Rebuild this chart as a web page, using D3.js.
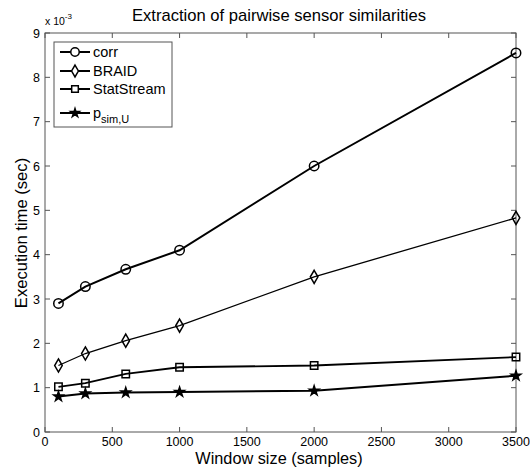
<!DOCTYPE html>
<html>
<head>
<meta charset="utf-8">
<script src="https://cdn.jsdelivr.net/npm/d3@7"></script>
<style>
  body { margin: 0; background: #fff; }
  svg { font-family: Arial, "Liberation Sans", sans-serif; }
</style>
</head>
<body>
<svg id="chart" width="530" height="468"></svg>
<script>
// data (execution time in units of 1e-3 s)
var windowSizes = [100, 300, 600, 1000, 2000, 3500];
var corr = [2.9, 3.28, 3.67, 4.1, 6.0, 8.55];
var braid = [1.5, 1.77, 2.06, 2.4, 3.5, 4.83];
var statStream = [1.02, 1.1, 1.31, 1.46, 1.5, 1.69];
var pSim = [0.8, 0.87, 0.89, 0.9, 0.93, 1.27];
var xTicks = [0, 500, 1000, 1500, 2000, 2500, 3000, 3500];
var yTicks = [0, 1, 2, 3, 4, 5, 6, 7, 8, 9];

var series = [
  { name: 'corr', vals: corr, sym: d3.symbolCircle, size: 70, fill: 'none', lw: 2 },
  { name: 'BRAID', vals: braid, sym: d3.symbolDiamond, size: 50, fill: 'none', lw: 1.3 },
  { name: 'StatStream', vals: statStream, sym: d3.symbolSquare, size: 55, fill: 'none', lw: 1.8 },
  { name: 'p', sub: 'sim,U', vals: pSim, sym: d3.symbolStar, size: 28, fill: '#000', lw: 2 }
];

var svg = d3.select('#chart');
var L = 45, R = 516, T = 33, B = 432;
var x = d3.scaleLinear().domain([0, 3500]).range([L, R]);
var y = d3.scaleLinear().domain([0, 9]).range([B, T]);

// box + inward ticks on all sides
var ax = svg.append('g').attr('stroke', '#555').attr('stroke-width', 1);
ax.append('rect').attr('x', L).attr('y', T).attr('width', R - L).attr('height', B - T).attr('fill', 'none');
xTicks.forEach(function (t) {
  ax.append('line').attr('x1', x(t)).attr('x2', x(t)).attr('y1', B).attr('y2', B - 5);
  ax.append('line').attr('x1', x(t)).attr('x2', x(t)).attr('y1', T).attr('y2', T + 5);
});
yTicks.forEach(function (t) {
  ax.append('line').attr('x1', L).attr('x2', L + 5).attr('y1', y(t)).attr('y2', y(t));
  ax.append('line').attr('x1', R).attr('x2', R - 5).attr('y1', y(t)).attr('y2', y(t));
});

var lab = svg.append('g').attr('font-size', 12.5).attr('fill', '#000');
xTicks.forEach(function (t) {
  lab.append('text').attr('x', x(t)).attr('y', B + 13.5).attr('text-anchor', 'middle').text(t);
});
yTicks.forEach(function (t) {
  lab.append('text').attr('x', L - 5).attr('y', y(t) + 4.5).attr('text-anchor', 'end').text(t);
});
// exponent
var ex = svg.append('text').attr('x', 45).attr('y', 25).attr('font-size', 10.5);
ex.append('tspan').text('x 10');
ex.append('tspan').attr('dy', -6).attr('font-size', 8).text('-3');

svg.append('text').attr('x', 279).attr('y', 21).attr('text-anchor', 'middle').attr('font-size', 16.6)
  .text('Extraction of pairwise sensor similarities');
svg.append('text').attr('x', 279).attr('y', 463.5).attr('text-anchor', 'middle').attr('font-size', 16.3)
  .text('Window size (samples)');
svg.append('text').attr('transform', 'translate(27,233) rotate(-90)').attr('text-anchor', 'middle').attr('font-size', 16.6)
  .text('Execution time (sec)');

// series
var line = d3.line().x(function (d, i) { return x(windowSizes[i]); }).y(function (d) { return y(d); });
series.forEach(function (s) {
  svg.append('path').datum(s.vals).attr('d', line).attr('fill', 'none').attr('stroke', '#000').attr('stroke-width', s.lw);
  svg.selectAll(null).data(s.vals).enter().append('path')
    .attr('transform', function (d, i) { return 'translate(' + x(windowSizes[i]) + ',' + y(d) + ')'; })
    .attr('d', d3.symbol().type(s.sym).size(s.size))
    .attr('fill', s.fill === 'none' ? '#fff' : s.fill).attr('fill-opacity', s.fill === 'none' ? 0 : 1)
    .attr('stroke', '#000').attr('stroke-width', 1.5);
});

// legend
var lg = svg.append('g');
lg.append('rect').attr('x', 54).attr('y', 42).attr('width', 118).attr('height', 85)
  .attr('fill', '#fff').attr('stroke', '#555');
var ly = [52, 71, 89, 113];
series.forEach(function (s, i) {
  lg.append('line').attr('x1', 60).attr('x2', 90).attr('y1', ly[i]).attr('y2', ly[i]).attr('stroke', '#000').attr('stroke-width', 2);
  lg.append('path').attr('transform', 'translate(75,' + ly[i] + ')')
    .attr('d', d3.symbol().type(s.sym).size(s.size * 0.8))
    .attr('fill', s.fill === 'none' ? '#fff' : s.fill).attr('stroke', '#000').attr('stroke-width', 1.5);
  var t = lg.append('text').attr('x', 93).attr('y', ly[i] + 5).attr('font-size', 14.5);
  t.append('tspan').text(s.name);
  if (s.sub) t.append('tspan').attr('dy', 5).attr('font-size', 11).text(s.sub);
});
</script>
</body>
</html>
